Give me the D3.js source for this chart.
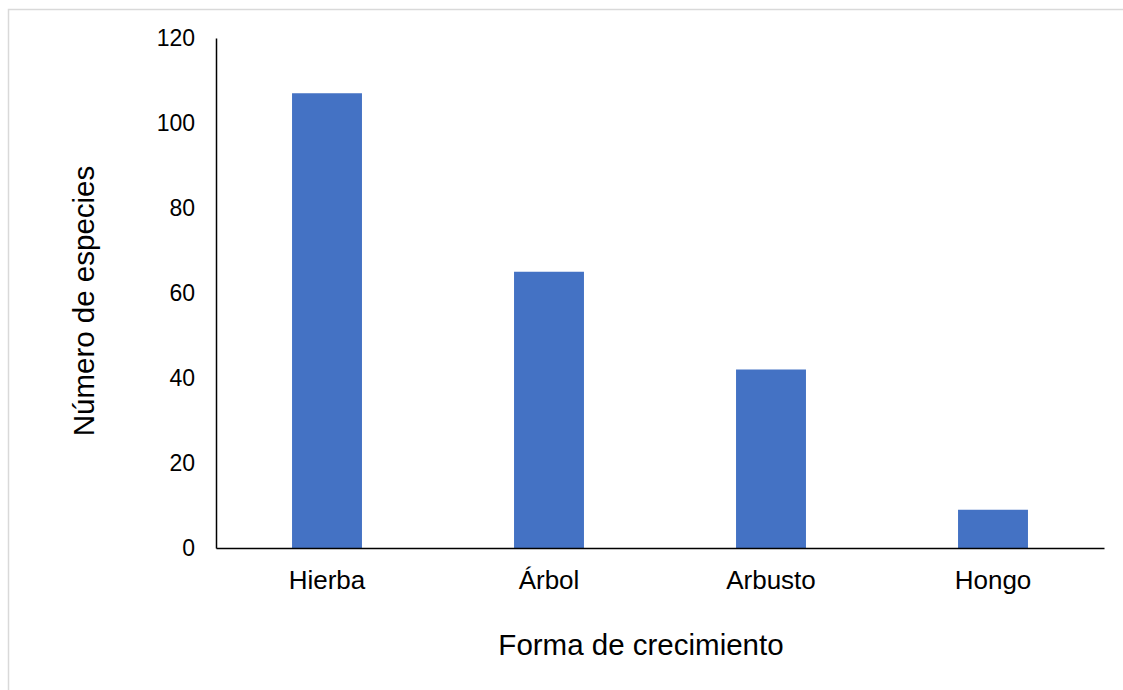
<!DOCTYPE html>
<html>
<head>
<meta charset="utf-8">
<script src="https://cdn.jsdelivr.net/npm/d3@7"></script>
<style>
  body { margin: 0; background: #fff; }
  svg { display: block; font-family: 'Liberation Sans', Arial, sans-serif; }
</style>
</head>
<body>
<script>
(function () {
  'use strict'
  const categories = ['Hierba', 'Árbol', 'Arbusto', 'Hongo']
  const species = [107, 65, 42, 9]
  const yTicks = [0, 20, 40, 60, 80, 100, 120]

  const width = 1123
  const height = 690
  const margin = {top: 38, right: 19, bottom: 142, left: 216}

  const svg = d3.select('body').append('svg')
    .attr('width', width)
    .attr('height', height)

  // frame (only top and left edges show in the picture)
  svg.append('rect')
    .attr('x', 8.5)
    .attr('y', 9.5)
    .attr('width', width + 10)
    .attr('height', height + 10)
    .attr('fill', 'none')
    .attr('stroke', '#d9d9d9')
    .attr('stroke-width', 1.5)

  const x = d3.scaleBand()
    .domain(categories)
    .range([margin.left, width - margin.right])
    .paddingInner(0.685)
    .paddingOuter(0.3425)

  const y = d3.scaleLinear()
    .domain([0, 120])
    .range([height - margin.bottom, margin.top])

  const data = categories.map((c, i) => ({cat: c, value: species[i]}))

  svg.selectAll('rect.bar')
    .data(data)
    .enter().append('rect')
    .attr('class', 'bar')
    .attr('x', d => x(d.cat))
    .attr('y', d => y(d.value))
    .attr('width', x.bandwidth())
    .attr('height', d => y(0) - y(d.value))
    .attr('fill', '#4472c4')

  const yAxis = svg.append('g')
    .attr('transform', `translate(${margin.left}, 0)`)
    .call(d3.axisLeft(y).tickValues(yTicks).tickSize(0).tickPadding(21))
  yAxis.select('.domain').attr('stroke', '#000').attr('stroke-width', 1.5)
  yAxis.selectAll('text')
    .attr('font-size', '23px')
    .attr('fill', '#000')
    .attr('font-family', "'Liberation Sans', Arial, sans-serif")

  const xAxis = svg.append('g')
    .attr('transform', `translate(0, ${y(0)})`)
    .call(d3.axisBottom(x).tickSize(0).tickPadding(23))
  xAxis.select('.domain').attr('stroke', '#000').attr('stroke-width', 1.5)
  xAxis.selectAll('text')
    .attr('font-size', '26px')
    .attr('fill', '#000')
    .attr('font-family', "'Liberation Sans', Arial, sans-serif")

  svg.append('text')
    .attr('x', 641)
    .attr('y', 655)
    .attr('text-anchor', 'middle')
    .attr('font-size', '29.5px')
    .attr('fill', '#000')
    .text('Forma de crecimiento')

  svg.append('text')
    .attr('transform', 'translate(94, 301) rotate(-90)')
    .attr('text-anchor', 'middle')
    .attr('font-size', '29.5px')
    .attr('fill', '#000')
    .text('Número de especies')
})()
</script>
</body>
</html>
